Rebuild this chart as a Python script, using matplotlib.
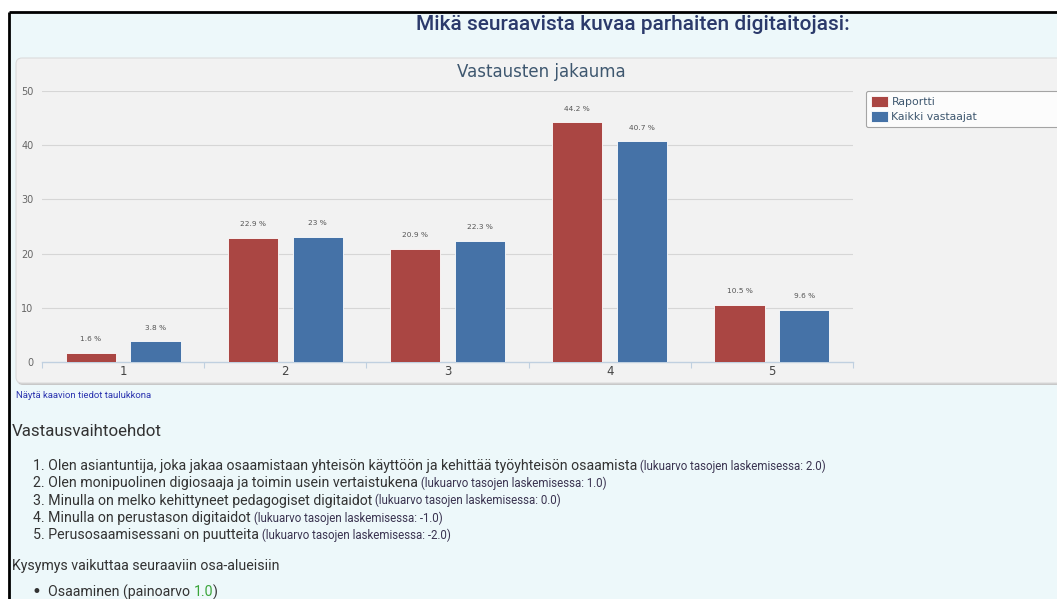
import numpy as np
import matplotlib.pyplot as plt
from matplotlib.patches import Rectangle, FancyBboxPatch

# ── data ──────────────────────────────────────────────────────────────────────
CATEGORIES = ["1", "2", "3", "4", "5"]
RAPORTTI = [1.6, 22.9, 20.9, 44.2, 10.5]
KAIKKI = [3.8, 23.0, 22.3, 40.7, 9.6]
SERIES_NAMES = ["Raportti", "Kaikki vastaajat"]
Y_TICKS = [0, 10, 20, 30, 40, 50]

OPTIONS = [
    "Olen asiantuntija, joka jakaa osaamistaan yhteisön käyttöön ja kehittää työyhteisön osaamista",
    "Olen monipuolinen digiosaaja ja toimin usein vertaistukena",
    "Minulla on melko kehittyneet pedagogiset digitaidot",
    "Minulla on perustason digitaidot",
    "Perusosaamisessani on puutteita",
]
OPTION_VALUES = ["2.0", "1.0", "0.0", "-1.0", "-2.0"]

RED = "#aa4643"
BLUE = "#4572a7"
W, H = 1057, 599

fig = plt.figure(figsize=(W / 100, H / 100), dpi=100)
fig.patch.set_facecolor("white")

# page layer in pixel coordinates
page = fig.add_axes([0, 0, 1, 1], zorder=0)
page.set_xlim(0, W)
page.set_ylim(H, 0)
page.axis("off")

page.add_patch(Rectangle((9, 12), W, H, facecolor="#edf8fa", edgecolor="none"))
page.plot([9, W], [12, 12], color="black", lw=2.0, solid_capstyle="butt")
page.plot([9, 9], [12, H], color="black", lw=2.0, solid_capstyle="butt")

# chart container
page.add_patch(FancyBboxPatch((17, 60), W + 20, 325, boxstyle="round,pad=0,rounding_size=6",
                              facecolor="#c8c8c8", edgecolor="none"))
page.add_patch(FancyBboxPatch((16, 58), W + 20, 325, boxstyle="round,pad=0,rounding_size=6",
                              facecolor="#f2f2f2", edgecolor="#dcdcdc", lw=0.8))

page.text(633, 25, "Mikä seuraavista kuvaa parhaiten digitaitojasi:", ha="center", va="center",
          fontsize=15, family="Roboto", fontweight="medium", color="#2b3a6b")
page.text(541, 72, "Vastausten jakauma", ha="center", va="center",
          fontsize=12, family="DejaVu Sans", color="#3e576f")
page.text(16, 396, "Näytä kaavion tiedot taulukkona", ha="left", va="center",
          fontsize=6.8, family="Roboto", color="#2c35b0")
page.text(12, 431, "Vastausvaihtoehdot", ha="left", va="center",
          fontsize=12.2, family="Roboto", color="#333333")

for i, (opt, val) in enumerate(zip(OPTIONS, OPTION_VALUES)):
    y = 466 + i * 17.3
    t = page.text(33, y, f"{i + 1}. {opt}", ha="left", va="center",
                  fontsize=10.2, family="Roboto", color="#333333")
    page.annotate(f" (lukuarvo tasojen laskemisessa: {val})", xy=(1, 0.5), xycoords=t,
                  ha="left", va="center", fontsize=8.3, family="Roboto", color="#3a3350")

page.text(12, 566, "Kysymys vaikuttaa seuraaviin osa-alueisiin", ha="left", va="center",
          fontsize=10.2, family="Roboto", color="#333333")
page.text(32, 592, "•", ha="left", va="center", fontsize=12, family="DejaVu Sans", color="#333333")
t = page.text(48, 592, "Osaaminen (painoarvo ", ha="left", va="center",
              fontsize=10.2, family="Roboto", color="#333333")
t2 = page.annotate("1.0", xy=(1, 0.5), xycoords=t, ha="left", va="center",
                   fontsize=10.2, family="Roboto", color="#3aa53a")
page.annotate(")", xy=(1, 0.5), xycoords=t2, ha="left", va="center",
              fontsize=10.2, family="Roboto", color="#333333")

# ── chart ─────────────────────────────────────────────────────────────────────
x0, x1, y0, y1 = 42, 853, 362, 91
ax = fig.add_axes([x0 / W, 1 - y0 / H, (x1 - x0) / W, (y0 - y1) / H], zorder=1)
ax.patch.set_alpha(0)

x = np.arange(1, len(CATEGORIES) + 1)
bw = 0.31
b1 = ax.bar(x - 0.2, RAPORTTI, bw, color=RED, edgecolor="white", lw=0.6, label=SERIES_NAMES[0], zorder=3)
b2 = ax.bar(x + 0.2, KAIKKI, bw, color=BLUE, edgecolor="white", lw=0.6, label=SERIES_NAMES[1], zorder=3)

for bars, vals in ((b1, RAPORTTI), (b2, KAIKKI)):
    for rect, v in zip(bars, vals):
        ax.annotate(f"{v:g} %", (rect.get_x() + rect.get_width() / 2, v), xytext=(0, 10),
                    textcoords="offset points", ha="center", va="center",
                    fontsize=5.3, color="#555555")

ax.set_xlim(0.5, len(CATEGORIES) + 0.5)
ax.set_ylim(0, 50)
ax.set_yticks(Y_TICKS)
ax.set_yticklabels([str(v) for v in Y_TICKS], fontsize=7, color="#666666")
ax.tick_params(axis="y", length=0, pad=6)
ax.set_xticks(x)
ax.set_xticklabels(CATEGORIES, fontsize=8.5, color="#444444")
ax.tick_params(axis="x", length=0, pad=2)
ax.set_xticks(np.arange(0.5, len(CATEGORIES) + 1, 1), minor=True)
ax.tick_params(axis="x", which="minor", length=4, color="#c0d0e0", width=0.8)
for s in ("top", "right", "left"):
    ax.spines[s].set_visible(False)
ax.spines["bottom"].set_color("#c0d0e0")
ax.spines["bottom"].set_linewidth(1.0)
for v in Y_TICKS[1:]:
    ax.axhline(v, color="#d6d6d6", lw=0.8, zorder=1)

leg = fig.legend(handles=[b1, b2], loc="upper left",
                 bbox_to_anchor=(866 / W, 1 - 133 / H, 0.3, 42 / H), mode="expand",
                 fontsize=7.8, frameon=True, fancybox=True, handlelength=1.55, handleheight=1.2,
                 handletextpad=0.35, labelspacing=0.35, borderpad=0.45, borderaxespad=0)
leg.get_frame().set_edgecolor("#909090")
leg.get_frame().set_linewidth(0.8)
for txt in leg.get_texts():
    txt.set_color("#3e576f")

fig.savefig("out.png", dpi=100)
